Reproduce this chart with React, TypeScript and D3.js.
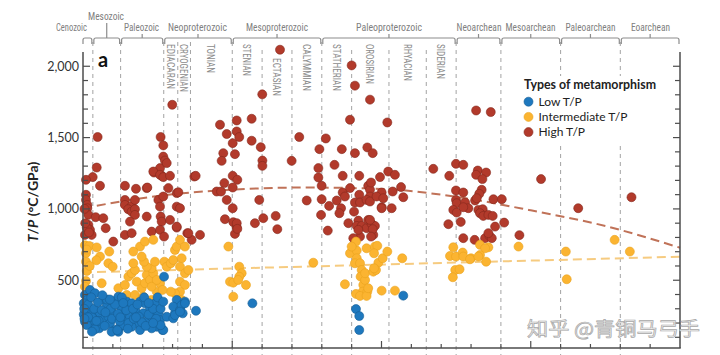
import React from "react";
import * as d3 from "d3";

// ---------- data ----------
const eraNames = ["Cenozoic", "Mesozoic", "Paleozoic", "Neoproterozoic", "Mesoproterozoic", "Paleoproterozoic", "Neoarchean", "Mesoarchean", "Paleoarchean", "Eoarchean"];
const eraStart = [0, 66, 252, 541, 1000, 1600, 2500, 2800, 3200, 3600];
const eraEnd = [66, 252, 541, 1000, 1600, 2500, 2800, 3200, 3600, 4000];

const periodNames = ["EDIACARAN", "CRYOGENIAN", "TONIAN", "STENIAN", "ECTASIAN", "CALYMMIAN", "STATHERIAN", "OROSIRIAN", "RHYACIAN", "SIDERIAN"];
const periodStart = [541, 635, 720, 1000, 1200, 1400, 1600, 1800, 2050, 2300];
const periodEnd = [635, 720, 1000, 1200, 1400, 1600, 1800, 2050, 2300, 2500];

const boundaries = [66, 252, 541, 635, 720, 1000, 1200, 1400, 1600, 1800, 2050, 2300, 2500, 2800, 3200, 3600];

const yTicks = [500, 1000, 1500, 2000];
const yTickLabels = ["500", "1,000", "1,500", "2,000"];

const seriesNames = ["Low T/P", "Intermediate T/P", "High T/P"];

const highTrendAge = [0, 500, 1000, 1500, 2000, 2500, 3000, 3500, 4000];
const highTrendTP = [1005, 1090, 1135, 1150, 1140, 1085, 990, 880, 728];
const interTrendAge = [0, 4000];
const interTrendTP = [555, 665];

const highTP: [number, number][] = [
  [98,1504],[92,1290],[65,1223],[20,1204],[114,1162],[20,1099],[20,1063],[29,1028],[29,1005],[36,958],[85,942],[136,935],[36,888],[47,853],[13,818],[58,818],[152,865],[25,870],[203,771],[10,1000],[15,900],[40,835],
  [281,1162],[355,1141],[427,1146],[281,1063],[281,1028],[326,1021],[348,1063],[303,998],[326,981],[348,998],[348,958],[315,911],[281,818],[326,830],[427,946],[460,841],[476,1255],[516,1286],[520,1504],[538,1445],[538,1367],[471,1262],[505,1063],[516,1016],[538,1087],[520,946],[527,911],[516,853],[543,806],[527,1232],[431,1150],
  [549,1339],[561,1321],[516,1239],[538,1223],[583,1232],[572,1146],[583,923],[628,1111],[628,1016],[650,1005],[628,869],[598,1730],[746,1227],[699,830],[728,783],[784,818],[639,1117],[755,1232],[628,876],[706,830],
  [918,1590],[963,1525],[1030,1620],[1030,1543],[1047,1504],[1130,1632],[1130,1478],[1003,1461],[940,1391],[929,1337],[1018,1384],[1191,1433],[1202,1339],[1202,1302],[1003,1232],[1034,1204],[947,1181],[896,1122],[925,1122],[1003,1150],[963,1063],[1003,1005],[1181,1063],[1208,935],[1152,900],[951,928],[1007,907],[1030,872],[1018,825],[1201,1803],[1320,2116],[1030,900],[1034,860],[1291,951],[1302,858],[1398,1337],[1449,1504],[1499,1059],
  [1584,1419],[1627,1494],[1577,1286],[1577,1220],[1599,1162],[1599,1068],[1595,958],[1640,848],[1649,1021],[1685,1309],[1734,1419],[1740,1232],[1700,1059],[1729,1005],[1718,970],[1740,1115],[1755,1087],[1778,900],[1789,1625],[1822,1391],[1789,1146],[1816,981],[1822,1045],[1851,1232],[1851,1099],[1856,1045],[1845,918],[1834,881],[1867,881],[1900,865],[1856,806],[1905,1431],[1941,1391],[1923,1766],[1911,1162],[1923,1134],[1923,1087],[1900,1063],[1923,1052],[1911,923],[1934,895],[1956,881],[1945,818],[1990,1223],[2001,1115],[1967,1087],[2012,1075],[2001,1012],[2045,1262],[2039,1606],[2075,1122],[2068,1005],[2090,1239],[2131,1153],[2146,1082],[1800,2006],[1822,1864],[1930,1185],[2001,1005],[1923,923],[1941,858],[1845,853],[1811,795],[1930,806],
  [2347,1281],[2454,1232],[2499,1316],[2548,1309],[2645,1269],[2701,1255],[2634,1239],[2676,1209],[2499,1129],[2548,1115],[2671,1134],[2655,1106],[2627,1059],[2638,1075],[2499,1063],[2504,1040],[2560,1045],[2582,1005],[2481,993],[2504,974],[2548,1012],[2649,993],[2678,998],[2660,970],[2682,951],[2716,958],[2745,951],[2750,1068],[2806,1068],[2448,893],[2531,909],[2761,876],[2822,904],[2548,795],[2624,783],[2694,795],[2723,811],[2739,795],[2716,830],[2924,816],[2634,1690],[2732,1679],[3069,1209],[3318,1005],[3675,1082]
];

const intermediateTP: [number, number][] = [
  [13,745],[42,740],[20,690],[25,715],[20,630],[25,565],[20,495],[13,455],[92,730],[114,666],[170,619],[176,701],[125,479],[199,595],[90,640],[45,600],
  [237,444],[281,467],[304,525],[326,549],[348,572],[360,490],[393,444],[415,479],[427,537],[449,502],[471,549],[460,584],[482,630],[427,595],[409,630],[393,666],[382,736],[415,771],[471,783],[337,619],[337,701],[293,397],[348,397],[404,385],[460,362],[494,420],[460,455],[516,479],[494,502],
  [545,630],[561,595],[588,619],[605,642],[616,712],[628,736],[650,783],[683,736],[661,654],[650,595],[683,549],[650,490],[683,467],[650,420],[616,408],[588,420],[661,362],[706,572],[533,432],
  [974,736],[985,490],[1007,483],[1047,595],[1063,549],[1047,525],[1040,502],[1092,467],[1007,385],[1543,623],
  [1789,689],[1834,708],[1834,654],[1822,619],[1856,619],[1867,572],[1860,525],[1878,467],[1890,502],[1874,420],[1829,404],[1856,390],[1905,420],[1900,390],[1911,444],[1890,549],[1900,724],[1956,736],[1972,741],[1950,689],[1979,623],[1945,560],[1963,572],[1950,584],[2008,654],[2039,701],[2001,427],[2090,427],[2139,654],[1829,771],[1800,736],[1755,472],
  [2481,731],[2660,748],[2716,731],[2694,724],[2459,670],[2499,666],[2544,694],[2548,666],[2600,654],[2660,677],[2701,630],[2494,572],[2523,577],[2478,521],[2918,736],[2593,647],[2649,666],
  [3235,701],[3241,507],[3562,783],[3664,701]
];

const lowTP: [number, number][] = [
  [13,397],[47,432],[80,409],[29,362],[5,338],[20,315],[47,291],[69,268],[25,244],[13,209],[47,198],[80,174],[109,163],[69,221],[114,268],[136,362],[159,315],[136,221],[170,244],[203,268],[181,198],[214,151],[226,362],[237,385],[253,315],[270,256],[293,350],[281,209],[315,244],[326,338],[355,279],[360,198],[382,350],[404,268],[415,338],[427,209],[449,303],[460,244],[482,338],[505,268],[516,221],[494,174],[533,151],[460,163],[382,151],[326,174],[248,174],[192,139],[80,156],[237,139],[538,151],[25,186],[270,186],
  [5,260],[35,330],[55,380],[60,240],[75,300],[100,345],[105,215],[125,290],[145,180],[160,365],[185,300],[195,230],[215,330],[235,265],[245,215],[260,380],[290,290],[305,200],[335,300],[340,230],[365,330],[375,245],[395,205],[410,380],[440,260],[470,300],[490,230],[500,380],[520,300],[35,240],[150,275],[230,150],[300,160],[420,180],[90,215],[60,140],[520,185],[180,365],[270,340],[440,340],[8,300],[10,230],[130,395],[250,240],[355,240],[470,200],
  [538,350],[543,525],[561,244],[605,233],[616,268],[628,362],[605,315],[650,291],[661,326],[683,350],[668,268],[616,256],[650,280],[683,338],[757,286],
  [1135,338],[1829,298],[1851,249],[1851,151],[2146,392]
];

// ---------- styles ----------
const COLORS = { low: "#1E78BE", inter: "#FBB431", high: "#B23A2B" };
const STROKES = { low: "#155E96", inter: "#E9A21F", high: "#85281D" };
const W = 720, H = 355;
const FONT = "Lato, 'Open Sans', sans-serif";
const NARROW = "'Liberation Sans Narrow', 'Roboto Condensed', Roboto, sans-serif";

export default function App() {
  const x = d3.scaleLinear().domain([0, 4000]).range([83, 680]);
  const y = d3.scaleLinear().domain([25, 2100]).range([348, 52]);

  const eraLabelCx = [71.5, 106, 141.5, 197.5, 277, 389, 479, 530.5, 590.5, 650.5];
  const eraLabelW = [31, 36, 35, 59, 62, 66, 45, 50, 50, 39];
  const periodLen = [45, 48, 29, 32, 38, 47, 47, 40, 37, 35];

  const lineGen = d3.line<[number, number]>().x(d => x(d[0])).y(d => y(d[1])).curve(d3.curveMonotoneX);
  const highTrend = highTrendAge.map((a, i) => [a, highTrendTP[i]] as [number, number]);
  const interTrend = interTrendAge.map((a, i) => [a, interTrendTP[i]] as [number, number]);

  const minorY = d3.range(100, 2100, 100);
  const xTicks = d3.range(200, 4000, 200);

  const dots = (data: [number, number][], key: "low" | "inter" | "high") =>
    data.map((d, i) => (
      <circle key={key + i} cx={x(d[0])} cy={y(d[1])} r={4.5} fill={COLORS[key]} stroke={STROKES[key]} strokeWidth={0.6} />
    ));

  return (
    <svg width={W} height={H} style={{ position: "absolute", left: 0, top: 0, background: "#fff" }}>
      {/* period boundary dashed lines */}
      {boundaries.map((b, i) => (
        <line key={"b" + i} x1={x(b)} x2={x(b)} y1={b === 1200 || b === 1400 || b === 1800 || b === 2050 || b === 2300 ? 50 : 42} y2={H}
          stroke="#a3a3a3" strokeWidth={1} strokeDasharray="4,4" />
      ))}

      {/* era brackets */}
      {eraStart.map((s, i) => {
        const x0 = x(s) + (i === 0 ? 0 : 1), x1 = x(eraEnd[i]) - 1;
        const cx = (x(s) + x(eraEnd[i])) / 2;
        return (
          <g key={"era" + i}>
            <path d={`M${x0},44 L${x0},40 Q${x0},38 ${x0 + 2},38 L${x1 - 2},38 Q${x1},38 ${x1},40 L${x1},44`} fill="none" stroke="#8c8c8c" strokeWidth={1.2} />
            {i > 0 && <line x1={cx} x2={cx} y1={38} y2={i === 1 ? 23 : 34} stroke="#8c8c8c" strokeWidth={1.2} />}
            <text x={eraLabelCx[i]} y={i === 1 ? 19.5 : 31} textAnchor="middle" fontFamily={NARROW} fontSize={11}
              fill="#808080" textLength={eraLabelW[i]} lengthAdjust="spacingAndGlyphs">{eraNames[i]}</text>
          </g>
        );
      })}

      {/* period labels */}
      {periodNames.map((p, i) => {
        const cx = (x(periodStart[i]) + x(periodEnd[i])) / 2;
        const y0 = p === "ECTASIAN" ? 58 : 44;
        return (
          <text key={"p" + i} transform={`translate(${cx},${y0}) rotate(90)`} dy="0.36em" fontFamily={NARROW} fontSize={11}
            fill="#8c8c8c" textLength={periodLen[i]} lengthAdjust="spacingAndGlyphs">{p}</text>
        );
      })}

      {/* legend background */}
      <rect x={518} y={76} width={145} height={66} fill="#fff" />

      {/* trend lines */}
      <path d={lineGen(highTrend) || ""} fill="none" stroke="#C07258" strokeWidth={2} strokeDasharray="9,5" />
      <path d={lineGen(interTrend) || ""} fill="none" stroke="#F6CB80" strokeWidth={2} strokeDasharray="9,5" />

      {/* points */}
      {dots(highTP, "high")}
      {dots(intermediateTP, "inter")}
      {dots(lowTP, "low")}

      {/* axes */}
      <line x1={83} x2={83} y1={52} y2={348} stroke="#4d4d4d" strokeWidth={1.5} />
      <line x1={680} x2={680} y1={52} y2={348} stroke="#4d4d4d" strokeWidth={1.5} />
      <line x1={82.25} x2={680.75} y1={348} y2={348} stroke="#4d4d4d" strokeWidth={1.5} />
      {minorY.map(v => (
        <g key={"yt" + v}>
          <line x1={83} x2={v % 500 === 0 ? 90 : 88} y1={y(v)} y2={y(v)} stroke="#4d4d4d" strokeWidth={1.2} />
          <line x1={680} x2={v % 500 === 0 ? 673 : 675} y1={y(v)} y2={y(v)} stroke="#4d4d4d" strokeWidth={1.2} />
        </g>
      ))}
      {xTicks.map(t => (
        <line key={"xt" + t} x1={x(t)} x2={x(t)} y1={348} y2={t % 1000 === 0 ? 341 : 344} stroke="#4d4d4d" strokeWidth={1.2} />
      ))}
      {yTicks.map((v, i) => (
        <text key={"yl" + v} x={79} y={y(v)} dy="0.35em" textAnchor="end" fontFamily={FONT} fontSize={12.5} fill="#333">{yTickLabels[i]}</text>
      ))}
      <text transform={`translate(38,202) rotate(-90)`} textAnchor="middle" fontFamily={FONT} fontSize={14} fontWeight="bold" fill="#222">
        <tspan fontStyle="italic">T</tspan>/<tspan fontStyle="italic">P</tspan> (°C/GPa)
      </text>
      <text x={98} y={67} fontFamily={FONT} fontSize={20} fontWeight="bold" fill="#111">a</text>

      {/* legend */}
      <text x={524} y={88.5} fontFamily={FONT} fontSize={12.5} fontWeight="bold" fill="#222" textLength={132} lengthAdjust="spacingAndGlyphs">Types of metamorphism</text>
      {seriesNames.map((s, i) => {
        const key = (["low", "inter", "high"] as const)[i];
        const cy = 101.7 + i * 15.2;
        return (
          <g key={"lg" + i}>
            <circle cx={528.5} cy={cy} r={4.5} fill={COLORS[key]} stroke={STROKES[key]} strokeWidth={0.6} />
            <text x={538.5} y={cy} dy="0.36em" fontFamily={FONT} fontSize={12} fill="#222">{s}</text>
          </g>
        );
      })}

      {/* watermark */}
      <text x={527} y={336} fontFamily="'Noto Sans CJK SC', sans-serif" fontSize={19.5} fill="#eeeeee" stroke="#a8a8a8" strokeWidth={0.7} textLength={173} lengthAdjust="spacingAndGlyphs">知乎 @青铜马弓手</text>
    </svg>
  );
}
